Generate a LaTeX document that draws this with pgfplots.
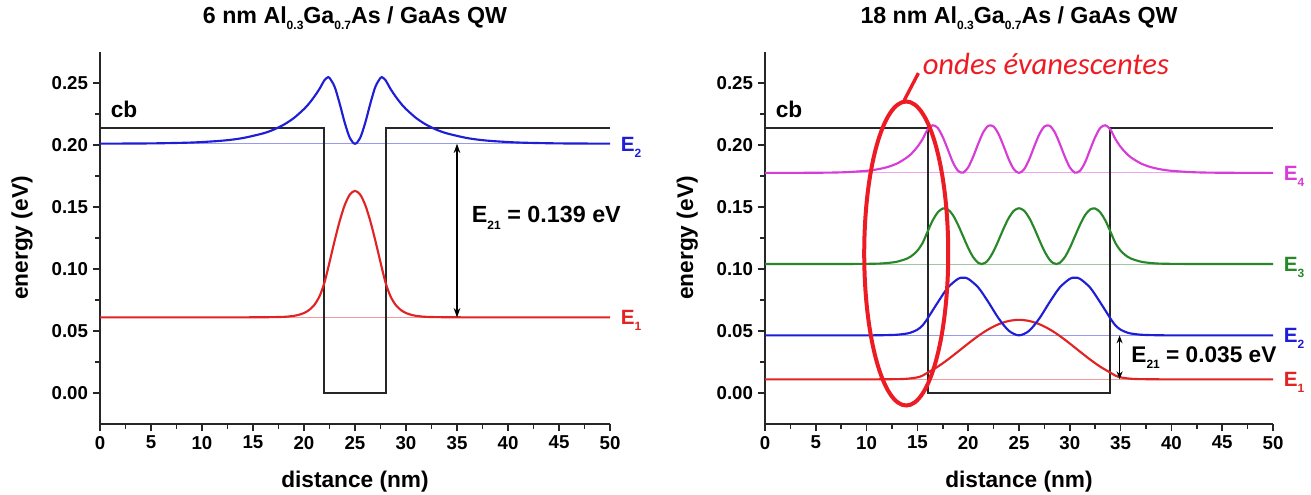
\documentclass[border=0pt]{standalone}
\usepackage{fontspec}
\setmainfont{Liberation Sans}
\newfontfamily\calibri{Carlito}
\usepackage{pgfplots}
\pgfplotsset{compat=1.18}
\usetikzlibrary{arrows.meta}

\definecolor{cbblue}{RGB}{30,30,215}
\definecolor{cbred}{RGB}{225,35,35}
\definecolor{cbgreen}{RGB}{40,135,40}
\definecolor{cbmag}{RGB}{215,60,215}
\definecolor{annred}{RGB}{237,28,36}

\newcommand{\lsub}[1]{\raisebox{-0.55ex}{\fontsize{9}{10}\selectfont #1}}

\tikzset{
  elab/.style={anchor=base west, yshift=-5.6pt, font=\bfseries\fontsize{15.5}{18}\selectfont},
  lev/.style={line width=0.7pt},
  wf/.style={line width=1.6pt, smooth},
  cbl/.style={black!85, line width=1.5pt},
}

\pgfplotsset{
  qw/.style={
    scale only axis,
    anchor=south west,
    axis x line*=bottom, axis y line*=left,
    axis line style={line width=1.5pt,-, black!85},
    xmin=0,xmax=50,ymin=-0.025,ymax=0.275,
    xtick={0,5,...,50}, ytick={0,0.05,0.1,0.15,0.2,0.25},
    minor x tick num=1, minor y tick num=1,
    tick align=outside,
    major tick length=5.5pt, minor tick length=3.5pt,
    every tick/.style={black!85,line width=1.3pt},
    tick label style={font=\bfseries\fontsize{14}{16}\selectfont},
    /pgf/number format/assume math mode=true,
    yticklabel style={/pgf/number format/.cd,fixed,fixed zerofill,precision=2},
    label style={font=\bfseries\fontsize{17}{20}\selectfont},
    xlabel style={at={(axis description cs:0.5,-0.155)},anchor=center},
    ylabel style={at={(axis description cs:-0.153,0.5)},anchor=center},
    title style={at={(axis description cs:0.5,1.056)},anchor=base,font=\bfseries\fontsize{17.4}{20}\selectfont},
    xlabel={distance (nm)}, ylabel={energy (eV)},
    clip=false,
  },
}

\begin{document}
\begin{tikzpicture}
\path[use as bounding box] (0,0) rectangle (983.25pt,370.5pt);

% ---------------- left: 6 nm QW ----------------
\begin{axis}[qw, at={(75pt,52.5pt)}, width=382.5pt, height=279pt,
  title={6 nm Al\lsub{0.3}Ga\lsub{0.7}As / GaAs QW}]
\addplot[lev, cbred!45] coordinates {(0,0.061) (50,0.061)};
\addplot[lev, cbblue!45] coordinates {(0,0.201) (50,0.201)};
\addplot[cbl] coordinates {(0,0.214) (22,0.214) (22,0) (28,0) (28,0.214) (50,0.214)};
\addplot[wf, cbred] coordinates {
(0,0.061) (12,0.061) (16,0.0611) (18,0.0614) (19,0.0622) (19.5,0.0631) (20,0.0645)
(20.5,0.0669) (21,0.0709) (21.5,0.0776) (22,0.0889) (22.5,0.1054) (23,0.1227)
(23.5,0.1387) (24,0.1517) (24.5,0.1601) (25,0.1630) (25.5,0.1601) (26,0.1517)
(26.5,0.1387) (27,0.1227) (27.5,0.1054) (28,0.0889) (28.5,0.0776) (29,0.0709)
(29.5,0.0669) (30,0.0645) (30.5,0.0631) (31,0.0622) (32,0.0614) (34,0.0611)
(38,0.061) (50,0.061)};
\addplot[wf, cbblue] coordinates {
(0,0.2011) (5,0.2013) (9,0.2020) (12,0.2035) (14,0.2056) (16,0.2094) (17,0.2123)
(18,0.2163) (19,0.2217) (20,0.2290) (20.5,0.2335) (21,0.2389) (21.5,0.2450)
(22,0.2522) (22.3,0.2544) (22.5,0.2541) (23,0.2470) (23.5,0.2333) (24,0.2178)
(24.5,0.2056) (25,0.2010) (25.5,0.2056) (26,0.2178) (26.5,0.2333) (27,0.2470)
(27.5,0.2541) (27.7,0.2544) (28,0.2522) (28.5,0.2450) (29,0.2389) (29.5,0.2335)
(30,0.2290) (31,0.2217) (32,0.2163) (33,0.2123) (34,0.2094) (36,0.2056)
(38,0.2035) (41,0.2020) (45,0.2013) (50,0.2011)};
\draw[{Stealth[length=7pt,width=5pt]}-{Stealth[length=7pt,width=5pt]}, line width=1pt]
  (axis cs:35,0.201) -- (axis cs:35,0.061);
\node[anchor=west, font=\bfseries\fontsize{17.5}{20}\selectfont] at (axis cs:36,0.141)
  {E\lsub{21} = 0.139 eV};
\node[anchor=base west, font=\bfseries\fontsize{17}{20}\selectfont] at (axis cs:0.6,0.222) {cb};
\node[elab, text=cbblue] at (axis cs:50.6,0.201) {E\lsub{2}};
\node[elab, text=cbred] at (axis cs:50.6,0.061) {E\lsub{1}};
\end{axis}

% ---------------- right: 18 nm QW ----------------
\begin{axis}[qw, at={(573.75pt,52.5pt)}, width=381pt, height=279pt,
  title={18 nm Al\lsub{0.3}Ga\lsub{0.7}As / GaAs QW}]
\addplot[lev, cbred!45] coordinates {(0,0.011) (50,0.011)};
\addplot[lev, cbblue!45] coordinates {(0,0.0465) (50,0.0465)};
\addplot[lev, cbgreen!45] coordinates {(0,0.104) (50,0.104)};
\addplot[lev, cbmag!45] coordinates {(0,0.1775) (50,0.1775)};
\addplot[cbl] coordinates {(0,0.214) (16,0.214) (16,0) (34,0) (34,0.214) (50,0.214)};
\addplot[wf, cbred] coordinates {
(0,0.011) (10,0.011) (13,0.0112) (14,0.0115) (15,0.0126) (15.5,0.0140) (16,0.0164)
(17,0.0212) (18,0.0270) (19,0.0334) (20,0.0399) (21,0.0461) (22,0.0514) (23,0.0555)
(24,0.0581) (25,0.0590) (26,0.0581) (27,0.0555) (28,0.0514) (29,0.0461) (30,0.0399)
(31,0.0334) (32,0.0270) (33,0.0212) (34,0.0164) (34.5,0.0140) (35,0.0126)
(36,0.0115) (37,0.0112) (40,0.011) (50,0.011)};
\addplot[wf, cbblue] coordinates {
(0,0.0465) (10,0.0465) (12,0.0467) (13,0.0470) (14,0.0480) (14.5,0.0492) (15,0.0511)
(15.5,0.0544) (16,0.0601) (17,0.0730) (18,0.0850) (19,0.0921) (19.5,0.0930)
(20,0.0921) (21,0.0850) (22,0.0731) (23,0.0601) (24,0.0502) (25,0.0465) (26,0.0502)
(27,0.0601) (28,0.0731) (29,0.0850) (30,0.0921) (30.5,0.0930) (31,0.0921)
(32,0.0850) (33,0.0730) (34,0.0601) (34.5,0.0544) (35,0.0511) (35.5,0.0492)
(36,0.0480) (37,0.0470) (38,0.0467) (40,0.0465) (50,0.0465)};
\addplot[wf, cbgreen] coordinates {
(0,0.104) (5,0.104) (9,0.1041) (11,0.1043) (12,0.1048) (13,0.1059) (14,0.1085)
(14.5,0.1110) (15,0.1148) (15.5,0.1208) (16,0.1301) (16.5,0.1391) (17,0.1456)
(17.5,0.1488) (18,0.1480) (18.5,0.1434) (19,0.1356) (19.5,0.1263) (20,0.1170)
(20.5,0.1094) (21,0.1049) (21.33,0.1040) (21.67,0.1050) (22,0.1076) (22.5,0.1144)
(23,0.1234) (23.5,0.1329) (24,0.1413) (24.5,0.1470) (25,0.1490) (25.5,0.1470)
(26,0.1413) (26.5,0.1329) (27,0.1234) (27.5,0.1144) (28,0.1076) (28.33,0.1050)
(28.67,0.1040) (29,0.1049) (29.5,0.1094) (30,0.1170) (30.5,0.1263) (31,0.1356)
(31.5,0.1434) (32,0.1480) (32.5,0.1488) (33,0.1456) (33.5,0.1391) (34,0.1301)
(34.5,0.1208) (35,0.1148) (35.5,0.1110) (36,0.1085) (37,0.1059) (38,0.1048)
(39,0.1043) (41,0.1041) (45,0.104) (50,0.104)};
\addplot[wf, cbmag] coordinates {
(0,0.1775) (2,0.1775) (6,0.1777) (8,0.1781) (10,0.1792) (11,0.1803) (12,0.1821)
(13,0.1851) (14,0.1901) (14.5,0.1938) (15,0.1985) (15.5,0.2046) (16,0.2124)
(16.5,0.2159) (17,0.2138) (17.5,0.2064) (18,0.1963) (18.5,0.1859) (19,0.1792)
(19.5,0.1777) (20,0.1820) (20.5,0.1908) (21,0.2013) (21.5,0.2106) (22,0.2156)
(22.5,0.2149) (23,0.2086) (23.5,0.1988) (24,0.1883) (24.5,0.1804) (25,0.1775)
(25.5,0.1804) (26,0.1883) (26.5,0.1988) (27,0.2086) (27.5,0.2149) (28,0.2156)
(28.5,0.2106) (29,0.2013) (29.5,0.1908) (30,0.1820) (30.5,0.1777) (31,0.1792)
(31.5,0.1859) (32,0.1963) (32.5,0.2064) (33,0.2138) (33.5,0.2159) (34,0.2124)
(34.5,0.2046) (35,0.1985) (35.5,0.1938) (36,0.1901) (37,0.1851) (38,0.1821)
(39,0.1803) (40,0.1792) (42,0.1781) (44,0.1777) (48,0.1775) (50,0.1775)};
\draw[{Stealth[length=6pt,width=4.5pt]}-{Stealth[length=6pt,width=4.5pt]}, line width=1pt]
  (axis cs:34.9,0.0465) -- (axis cs:34.9,0.011);
\node[anchor=west, font=\bfseries\fontsize{17}{20}\selectfont] at (axis cs:35.6,0.0285)
  {E\lsub{21} = 0.035 eV};
\node[anchor=base west, font=\bfseries\fontsize{17}{20}\selectfont] at (axis cs:0.6,0.222) {cb};
\node[elab, text=cbmag] at (axis cs:50.6,0.1775) {E\lsub{4}};
\node[elab, text=cbgreen] at (axis cs:50.6,0.104) {E\lsub{3}};
\node[elab, text=cbblue] at (axis cs:50.6,0.0465) {E\lsub{2}};
\node[elab, text=cbred] at (axis cs:50.6,0.011) {E\lsub{1}};
% annotation
\draw[annred, line width=3pt] (axis cs:13.9,0.1125) ellipse [x radius=31.5pt, y radius=114pt];
\draw[annred, line width=2.5pt] (axis cs:13.7,0.236) -- (axis cs:15.1,0.258);
\node[anchor=base west, inner sep=0pt, text=annred, font=\calibri\itshape\fontsize{23}{27}\selectfont]
  at (axis cs:15.5,0.2565) {ondes évanescentes};
\end{axis}
\end{tikzpicture}
\end{document}
